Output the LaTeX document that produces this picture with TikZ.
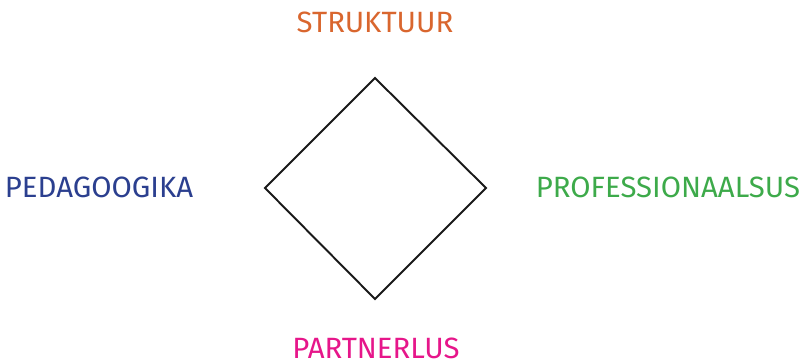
\documentclass[tikz,border=0pt]{standalone}
\usepackage{fontspec}
\setmainfont{Fira Sans}
\definecolor{struktuur}{HTML}{D9662E}
\definecolor{pedagoogika}{HTML}{2B3F8F}
\definecolor{professioon}{HTML}{3DAA4A}
\definecolor{partner}{HTML}{E6168A}
\begin{document}
\begin{tikzpicture}[x=0.02cm,y=-0.02cm,
  lbl/.style={inner sep=0pt,font=\fontsize{16.7}{18}\selectfont}]
  \useasboundingbox (0,0) rectangle (805,363);
  \path (375,78) coordinate (T) (486,188) coordinate (R) (375,299) coordinate (B) (265,188) coordinate (L);
  \draw[line width=1.1pt,color=black!90,line join=miter] (T)--(R)--(B)--(L)--cycle;
  \node[lbl,text=struktuur] (S) at (375,22) {STRUKTUUR};
  \node[lbl,text=pedagoogika] (P) at (99,187) {PEDAGOOGIKA};
  \node[lbl,text=professioon] (Pr) at (668,187) {PROFESSIONAALSUS};
  \node[lbl,text=partner] (Pa) at (376,348) {PARTNERLUS};
\end{tikzpicture}
\end{document}
